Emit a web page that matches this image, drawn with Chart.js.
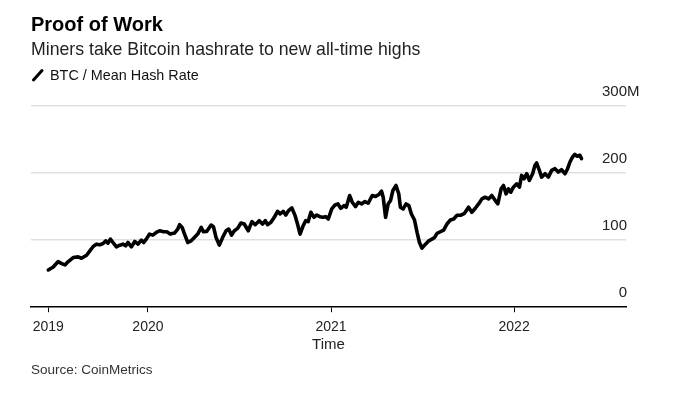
<!DOCTYPE html>
<html>
<head>
<meta charset="utf-8">
<script src="https://cdn.jsdelivr.net/npm/chart.js@4.4.1/dist/chart.umd.min.js"></script>
<style>
html,body{margin:0;padding:0;background:#fff;}
#wrap{position:relative;width:686px;height:395px;overflow:hidden;font-family:"Liberation Sans",Arial,sans-serif;background:#fff;}
#c{position:absolute;left:0;top:0;}
.t{position:absolute;white-space:nowrap;line-height:1;}
</style>
</head>
<body>
<div id="wrap">
  <canvas id="c" width="686" height="395"></canvas>
  <div class="t" style="left:31px;top:14px;font-size:20px;font-weight:bold;color:#000;">Proof of Work</div>
  <div class="t" style="left:31px;top:41px;font-size:17.7px;color:#222;">Miners take Bitcoin hashrate to new all-time highs</div>
  <svg style="position:absolute;left:31px;top:68px;" width="14" height="14"><line x1="2.5" y1="12" x2="11" y2="2.5" stroke="#000" stroke-width="3" stroke-linecap="round"/></svg>
  <div class="t" style="left:50px;top:68px;font-size:14.4px;color:#111;">BTC / Mean Hash Rate</div>
  <div class="t" style="left:31px;top:362.5px;font-size:13.5px;color:#333;">Source: CoinMetrics</div>
</div>
<script>
// ---- data (decimal year, mean hash rate in millions TH/s) ----
const seriesLabel = 'BTC / Mean Hash Rate';
const dates = [
  2019.456,2019.483,2019.510,2019.529,2019.547,2019.565,2019.592,2019.619,2019.637,2019.665,
  2019.683,2019.701,2019.719,2019.737,2019.755,2019.770,2019.782,2019.795,2019.809,2019.828,
  2019.846,2019.864,2019.879,2019.891,2019.910,2019.928,2019.946,2019.964,2019.977,2019.991,
  2020.009,2020.027,2020.046,2020.064,2020.085,2020.103,2020.122,2020.145,2020.163,2020.173,
  2020.187,2020.200,2020.218,2020.236,2020.254,2020.272,2020.291,2020.303,2020.321,2020.345,
  2020.358,2020.372,2020.390,2020.408,2020.427,2020.441,2020.457,2020.472,2020.490,2020.508,
  2020.526,2020.548,2020.568,2020.586,2020.608,2020.626,2020.641,2020.653,2020.672,2020.690,
  2020.708,2020.722,2020.739,2020.753,2020.768,2020.786,2020.804,2020.817,2020.831,2020.848,
  2020.862,2020.875,2020.890,2020.907,2020.922,2020.939,2020.956,2020.971,2020.985,2021.004,
  2021.022,2021.038,2021.053,2021.071,2021.083,2021.102,2021.116,2021.134,2021.149,2021.167,
  2021.185,2021.203,2021.225,2021.243,2021.261,2021.276,2021.285,2021.298,2021.312,2021.325,
  2021.338,2021.355,2021.370,2021.379,2021.394,2021.410,2021.425,2021.439,2021.456,2021.470,
  2021.483,2021.497,2021.516,2021.534,2021.551,2021.566,2021.579,2021.597,2021.615,2021.633,
  2021.652,2021.670,2021.688,2021.707,2021.729,2021.751,2021.769,2021.788,2021.806,2021.824,
  2021.842,2021.860,2021.878,2021.897,2021.911,2021.929,2021.942,2021.956,2021.969,2021.982,
  2021.996,2022.014,2022.029,2022.041,2022.054,2022.069,2022.083,2022.101,2022.114,2022.123,
  2022.138,2022.150,2022.169,2022.187,2022.205,2022.223,2022.241,2022.259,2022.278,2022.292,
  2022.305,2022.319,2022.332,2022.345,2022.359,2022.368
];
const hashRate = [
  55.5,60,68,65,63,68,74,75,73,77.5,
  84,90.5,94,93,95,99,95.5,101.5,96.5,90,
  92.5,94,91.5,96.5,90,98,94,100,96.5,101.5,
  109,107.5,111.5,114,112.5,112.5,109,110.5,116.5,123,
  119,109,96.5,99,104,109,119,112.5,113,122.5,
  120,104,92.5,104,114,116.5,107.5,114,117.5,125.5,
  124,114,127.5,123,129,124,129,123,126.5,134,
  143,139,143,137.5,144,148,136.5,124,109,121.5,
  129,127.5,141.5,134,137.5,135,134,135,131.5,146.5,
  152.5,154,147.5,151.5,149,166.5,156.5,150,156.5,154,
  157.5,155,166.5,165,168,173,164,134,154,159,
  174,181.5,169,149,146.5,154,151.5,139,130,111.5,
  96.5,88,94,99,101.5,104,110,112.5,115,124,
  130,131.5,137,137,140,149,141.5,147.5,154,161.5,
  164,161.5,166.5,159,154,176.5,181.5,169,176.5,171.5,
  179,184,179,196.5,191.5,199,189,199,211.5,215,
  204,194,199,194,204,206.5,201.5,205,199,206.5,
  216.5,224,228,225,226.5,221.5
];
const xTickValues = [2019.456, 2020, 2021, 2022];
const xTickLabels = ['2019', '2020', '2021', '2022'];
const xTitle = 'Time';
const yTickValues = [0, 100, 200, 300];
const yTickLabels = ['0', '100', '200', '300'];
const yUnit = 'M';
const xMin = 2019.3615, xMax = 2022.611;
const yMin = 0, yMax = 300;

const FONT = '"Liberation Sans", Arial, sans-serif';

const unitPlugin = {
  id: 'unitSuffix',
  afterDraw(chart) {
    const y = chart.scales.y;
    const opts = y.options.ticks;
    const py = y.getPixelForValue(yTickValues[yTickValues.length - 1]) + opts.labelOffset;
    const ctx = chart.ctx;
    ctx.save();
    ctx.font = '15px ' + FONT;
    ctx.fillStyle = opts.color;
    ctx.textAlign = 'left';
    ctx.textBaseline = 'middle';
    ctx.fillText(yUnit, y.left + opts.padding, py);
    ctx.restore();
  }
};

new Chart(document.getElementById('c'), {
  type: 'line',
  data: {
    datasets: [{
      label: seriesLabel,
      data: dates.map((d, i) => ({ x: d, y: hashRate[i] })),
      borderColor: '#000',
      borderWidth: 3.6,
      pointRadius: 0,
      tension: 0,
      borderJoinStyle: 'round',
      borderCapStyle: 'round',
      fill: false
    }]
  },
  options: {
    responsive: false,
    animation: false,
    devicePixelRatio: 1,
    layout: { padding: { left: 31, right: 58, top: 106, bottom: 41 } },
    plugins: { legend: { display: false }, tooltip: { enabled: false } },
    scales: {
      x: {
        type: 'linear',
        min: xMin,
        max: xMax,
        afterBuildTicks: (s) => { s.ticks = xTickValues.map(v => ({ value: v })); },
        ticks: {
          autoSkip: false,
          maxRotation: 0,
          padding: 7,
          color: '#222',
          font: { family: FONT, size: 14 },
          callback: (v) => { const i = xTickValues.indexOf(v); return i >= 0 ? xTickLabels[i] : ''; }
        },
        grid: { drawOnChartArea: false, drawTicks: true, tickLength: 5, color: '#000', lineWidth: 1 },
        border: { display: true, color: '#000', width: 1.5 },
        title: {
          display: true,
          text: xTitle,
          color: '#222',
          padding: { top: -7, bottom: 0 },
          font: { family: FONT, size: 15 }
        }
      },
      y: {
        position: 'right',
        min: yMin,
        max: yMax,
        afterBuildTicks: (s) => { s.ticks = yTickValues.map(v => ({ value: v })); },
        ticks: {
          mirror: true,
          crossAlign: 'near',
          padding: 1,
          labelOffset: -14,
          color: '#222',
          font: { family: FONT, size: 15 },
          callback: (v) => { const i = yTickValues.indexOf(v); return i >= 0 ? yTickLabels[i] : ''; }
        },
        grid: {
          drawTicks: false,
          lineWidth: 1.5,
          color: (ctx) => (ctx.tick && ctx.tick.value === 0) ? 'rgba(0,0,0,0)' : '#e0e0e0'
        },
        border: { display: false }
      }
    }
  },
  plugins: [unitPlugin]
});
</script>
</body>
</html>
